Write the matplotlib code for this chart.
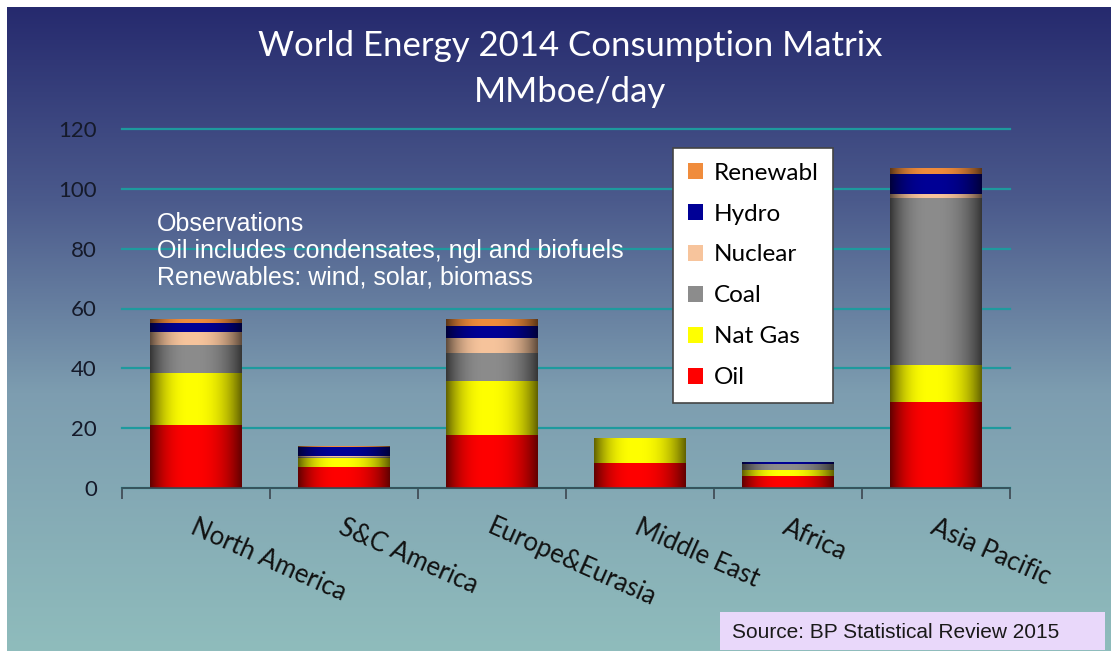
import numpy as np
import matplotlib
matplotlib.use("Agg")
import matplotlib.pyplot as plt
from matplotlib.colors import LinearSegmentedColormap, to_rgb
from matplotlib.patches import Patch, Rectangle

# consumption by region, MMboe/day
regions = ['North America', 'S&C America', 'Europe&Eurasia', 'Middle East', 'Africa', 'Asia Pacific']
oil = [21.0, 7.0, 17.7, 8.3, 4.0, 28.7]
nat_gas = [17.3, 3.0, 18.0, 8.3, 2.1, 12.3]
coal = [9.4, 0.4, 9.3, 0.1, 1.8, 56.0]
nuclear = [4.3, 0.2, 5.3, 0.0, 0.1, 1.3]
hydro = [3.0, 3.0, 4.0, 0.1, 0.6, 6.7]
renewables = [1.6, 0.4, 2.3, 0.0, 0.1, 2.0]

series = [
    ('Oil', oil, '#ff0000'),
    ('Nat Gas', nat_gas, '#ffff00'),
    ('Coal', coal, '#8c8c8c'),
    ('Nuclear', nuclear, '#f7c49c'),
    ('Hydro', hydro, '#000096'),
    ('Renewabl', renewables, '#f08c3c'),
]

W, H = 1111, 651
fig = plt.figure(figsize=(W / 100, H / 100), dpi=100)
fig.patch.set_facecolor('white')

# background gradient, navy at the top fading to pale teal
bg = fig.add_axes([0, 0, 1, 1], zorder=-10)
bg_cmap = LinearSegmentedColormap.from_list(
    'bg', [(0.0, '#262a6e'), (0.3, '#4b5a8c'), (0.6, '#7d9db0'), (1.0, '#8fbcbc')])
grad = np.linspace(0, 1, 256).reshape(-1, 1)
bg.imshow(grad, cmap=bg_cmap, aspect='auto',
          extent=[7 / W, 1, 0, 1 - 7 / H], transform=fig.transFigure)
bg.set_xlim(0, 1)
bg.set_ylim(0, 1)
bg.axis('off')

ax = fig.add_axes([122 / W, 163 / H, (1010 - 122) / W, (522 - 163) / H])
ax.patch.set_alpha(0)

x = np.arange(len(regions))
bar_w = 0.62


def cylinder(color, n=200):
    # horizontal shading: dark rims, bright band slightly left of centre
    t = np.linspace(0, 1, n)
    u = np.where(t < 0.45, (t - 0.45) / 0.45, (t - 0.45) / 0.55)
    f = 1 - 0.62 * np.abs(u) ** 2.5
    rgb = np.array(to_rgb(color))
    return (rgb[None, None, :] * f[None, :, None]).clip(0, 1)


bottom = np.zeros(len(regions))
for name, vals, color in series:
    bars = ax.bar(x, vals, bar_w, bottom=bottom, color=color, linewidth=0, zorder=2)
    img = cylinder(color)
    for p, v in zip(bars, vals):
        if v <= 0:
            continue
        x0, y0 = p.get_x(), p.get_y()
        im = ax.imshow(img, extent=[x0, x0 + p.get_width(), y0, y0 + p.get_height()],
                       aspect='auto', interpolation='bilinear', zorder=3)
        im.set_clip_path(p)
    bottom += np.array(vals)

ax.set_xlim(-0.5, len(regions) - 0.5)
ax.set_ylim(0, 120)
ax.set_yticks(range(0, 121, 20))
ax.yaxis.grid(True, color='#1e9a9e', linewidth=1.6, zorder=0)
for gl in ax.get_ygridlines():
    gl.set_clip_on(False)
ax.set_axisbelow(True)

for s in ['top', 'right', 'left']:
    ax.spines[s].set_visible(False)
ax.spines['bottom'].set_color('#3c4650')
ax.spines['bottom'].set_linewidth(1.2)
ax.spines['bottom'].set_zorder(4)

ax.tick_params(axis='y', length=0, pad=18, labelsize=16, labelcolor='#151a2a')
for lab in ax.get_yticklabels():
    lab.set_fontfamily('Lato')

ax.set_xticks(np.arange(-0.5, len(regions), 1.0))
ax.set_xticklabels([])
ax.tick_params(axis='x', direction='out', length=8, width=1.2, color='#3c4650')

for i, name in enumerate(regions):
    ax.annotate(name, xy=(i, 0), xycoords=('data', 'axes fraction'),
                xytext=(1, -19), textcoords='offset points',
                rotation=-24, rotation_mode='anchor', ha='left', va='top',
                fontsize=18.5, family='Lato', color='#111111')

fig.text(570 / W, 1 - 46 / H, 'World Energy 2014 Consumption Matrix',
         ha='center', va='center', fontsize=25, family='Lato', color='white')
fig.text(570 / W, 1 - 92 / H, 'MMboe/day',
         ha='center', va='center', fontsize=25, family='Lato', color='white')

fig.text(157 / W, 1 - 212 / H,
         'Observations\nOil includes condensates, ngl and biofuels\nRenewables: wind, solar, biomass',
         ha='left', va='top', fontsize=18, family='Liberation Sans',
         color='white', linespacing=1.15)

handles = [Patch(facecolor=c, edgecolor='none', label=n) for n, _, c in reversed(series)]
leg = ax.legend(handles=handles, loc='upper left',
                bbox_to_anchor=(673 / W, 1 - 148 / H), bbox_transform=fig.transFigure,
                frameon=True, fancybox=False, framealpha=1, edgecolor='#444444',
                prop={'family': 'Lato', 'size': 17.5}, labelspacing=0.82,
                handlelength=0.62, handleheight=0.62, handletextpad=0.45,
                borderpad=0.6, borderaxespad=0)
leg.get_frame().set_linewidth(1.2)
leg.set_zorder(6)

fig.patches.append(Rectangle((720 / W, 1 - 650 / H), (1105 - 720) / W, (650 - 612) / H,
                             transform=fig.transFigure, facecolor='#e9d8fa',
                             edgecolor='none', zorder=5))
fig.text(732 / W, 1 - 632 / H, 'Source: BP Statistical Review 2015',
         ha='left', va='center', fontsize=15, family='Liberation Sans',
         color='#1a1a1a', zorder=7)

fig.savefig('out.png', dpi=100)
